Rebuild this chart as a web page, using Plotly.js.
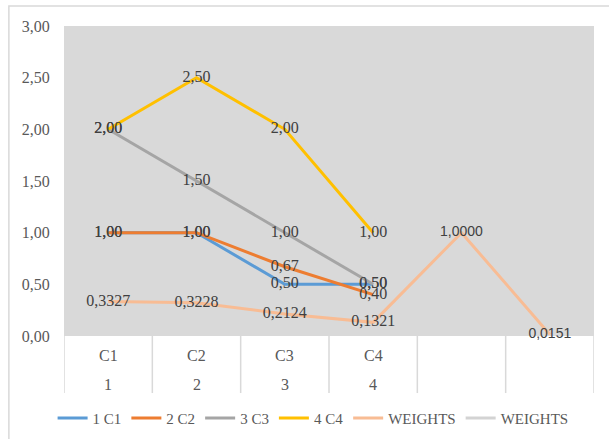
<!DOCTYPE html>
<html>
<head>
<meta charset="utf-8">
<script src="https://cdn.plot.ly/plotly-3.0.1.min.js"></script>
<style>html,body{margin:0;padding:0;background:#fff;}#chart{width:609px;height:439px;}</style>
</head>
<body>
<div id="chart"></div>
<script>
// ---- data ----
const categories = ["C1", "C2", "C3", "C4", "", ""];
const groupLabels = ["1", "2", "3", "4", "", ""];
const seriesNames = ["1 C1", "2 C2", "3 C3", "4 C4", "WEIGHTS", "WEIGHTS"];
const s1 = [1.00, 1.00, 0.50, 0.50];
const s2 = [1.00, 1.00, 0.67, 0.40];
const s3 = [2.00, 1.50, 1.00, 0.50];
const s4 = [2.00, 2.50, 2.00, 1.00];
const weights = [0.3327, 0.3228, 0.2124, 0.1321, 1.0000, 0.0151];
const weights2 = [null, null, null, null, null, null];
const yTicks = [0, 0.5, 1, 1.5, 2, 2.5, 3];

const colors = ["#5B9BD5", "#ED7D31", "#A5A5A5", "#FFC000", "#F8BC94", "#D3D3D3"];
const xs = categories.map((_, i) => i);
const serif = "'Liberation Serif', Tinos, 'Times New Roman', Times, serif";
const sans = "'Liberation Sans', Arial, sans-serif";

function fmt(v, d) { return v.toFixed(d).replace('.', ','); }

const allSeries = [s1, s2, s3, s4];
const traces = allSeries.map((s, k) => ({
  x: xs.slice(0, s.length), y: s, name: seriesNames[k],
  type: "scatter", mode: "lines+text",
  line: {color: colors[k], width: 3},
  text: s.map(v => fmt(v, 2)), textposition: "middle center", cliponaxis: false,
  textfont: {family: serif, size: 16, color: "#404040"},
  hoverinfo: "none"
}));
traces.push({
  x: xs, y: weights, name: seriesNames[4], type: "scatter", mode: "lines+text",
  line: {color: colors[4], width: 3}, cliponaxis: false,
  text: weights.map(v => fmt(v, 4)), textposition: "middle center",
  textfont: {family: weights.map((v, i) => i < 4 ? serif : sans),
             size: weights.map((v, i) => i < 4 ? 16 : 14), color: "#404040"},
  hoverinfo: "none"
});
traces.push({
  x: xs, y: weights2, name: seriesNames[5], type: "scatter", mode: "lines",
  line: {color: colors[5], width: 3}, hoverinfo: "none"
});

const shapes = [];
for (let i = 0; i <= categories.length; i++) {
  shapes.push({type: "line", xref: "x", yref: "paper", x0: i - 0.5, x1: i - 0.5,
    y0: 0, y1: -0.184, line: {color: "#D9D9D9", width: 1.5}});
}
shapes.push({type: "rect", xref: "paper", yref: "paper", x0: -0.104, x1: 1.2, y0: 1.0645, y1: -0.5,
  line: {color: "#D9D9D9", width: 1.5}, fillcolor: "rgba(0,0,0,0)", layer: "below"});

const annotations = [];
categories.forEach((c, i) => {
  annotations.push({xref: "x", yref: "paper", x: i, y: -0.062, text: c, showarrow: false,
    font: {family: serif, size: 16, color: "#595959"}, xanchor: "center", yanchor: "middle"});
  annotations.push({xref: "x", yref: "paper", x: i, y: -0.158, text: groupLabels[i], showarrow: false,
    font: {family: serif, size: 16, color: "#595959"}, xanchor: "center", yanchor: "middle"});
});

const layout = {
  width: 609, height: 439,
  margin: {l: 64, r: 15, t: 26, b: 103, autoexpand: false},
  paper_bgcolor: "#FFFFFF", plot_bgcolor: "#D9D9D9",
  separators: ",.",
  showlegend: true,
  legend: {orientation: "h", x: 0.47, xanchor: "center", y: -0.265, yanchor: "middle",
    font: {family: serif, size: 15, color: "#595959"}, itemwidth: 30, tracegroupgap: 0},
  xaxis: {range: [-0.5, categories.length - 0.5], showgrid: false, zeroline: false,
    showticklabels: false, showline: false, fixedrange: true},
  yaxis: {range: [0, 3], tickvals: yTicks, ticktext: yTicks.map(v => fmt(v, 2)),
    showgrid: false, zeroline: false, showline: false,
    ticks: "outside", ticklen: 10, tickcolor: "rgba(0,0,0,0)",
    tickfont: {family: serif, size: 16, color: "#595959"}},
  shapes: shapes, annotations: annotations
};

Plotly.newPlot("chart", traces, layout, {staticPlot: true, displayModeBar: false});
</script>
</body>
</html>
